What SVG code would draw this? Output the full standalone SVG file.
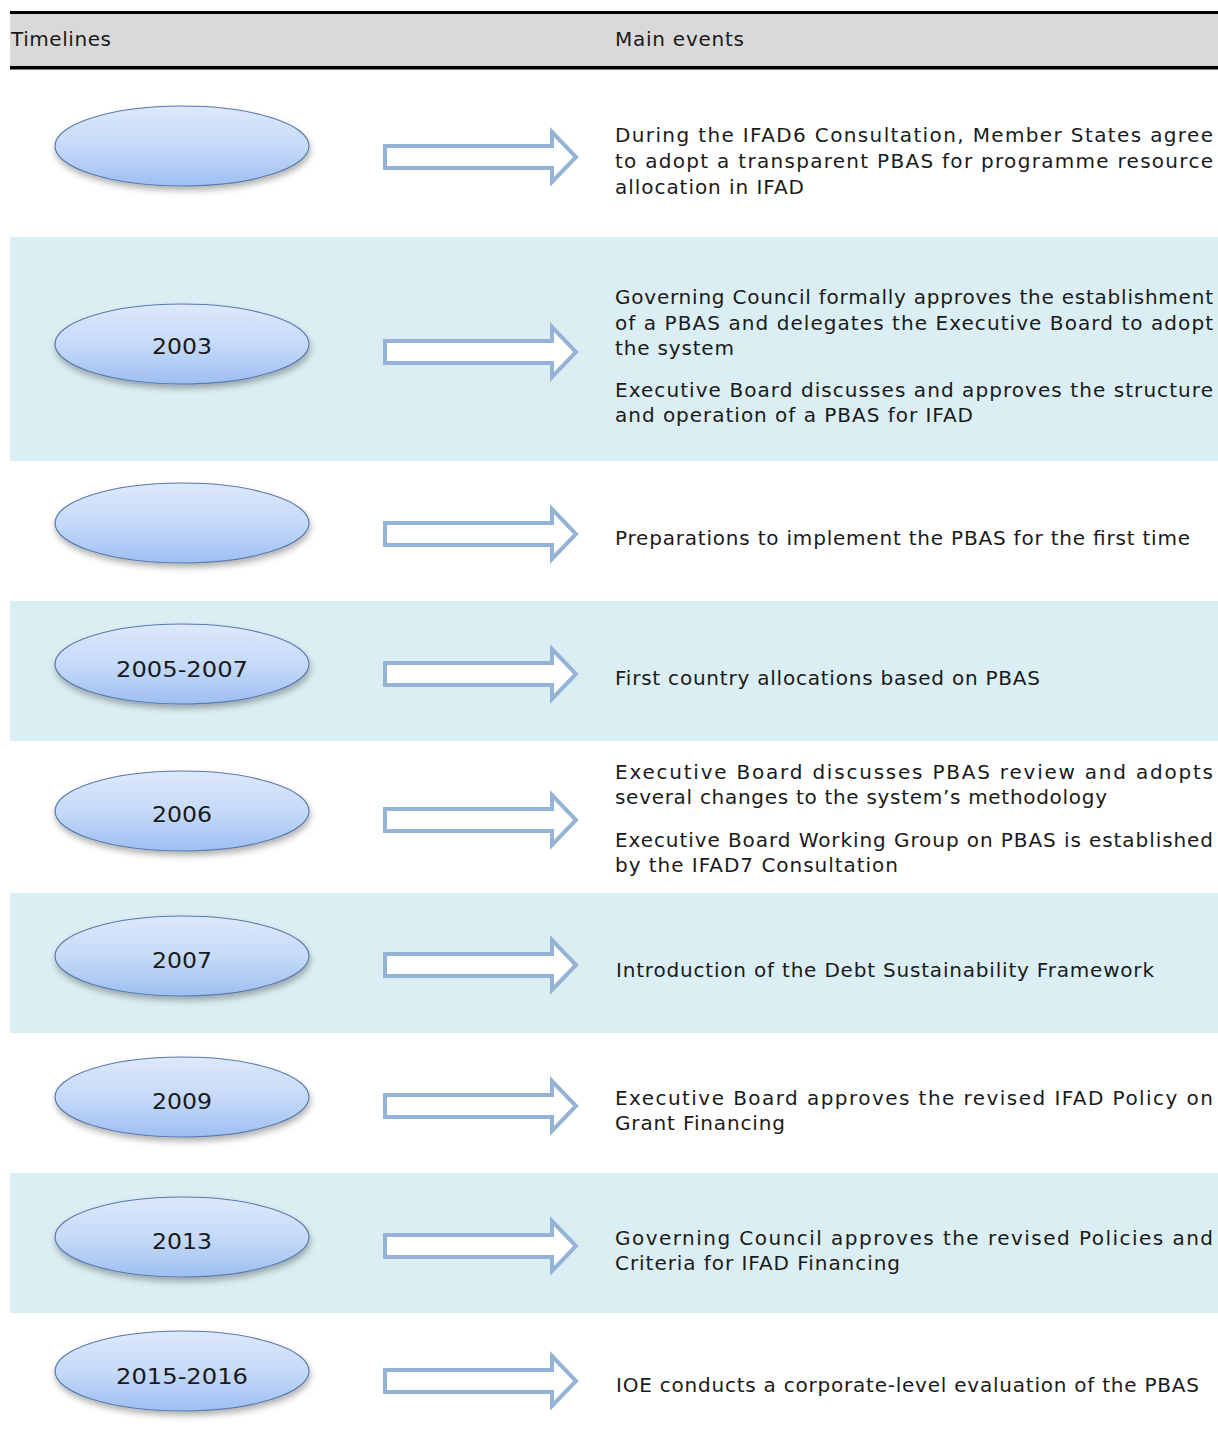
<svg xmlns="http://www.w3.org/2000/svg" width="1218" height="1437" viewBox="0 0 1218 1437">
<defs>
<linearGradient id="eg" x1="0" y1="0" x2="0" y2="1">
<stop offset="0" stop-color="#DDE8FB"/>
<stop offset="0.5" stop-color="#C6DAF8"/>
<stop offset="1" stop-color="#9EBFF2"/>
</linearGradient>
<filter id="sh" x="-20%" y="-30%" width="140%" height="170%">
<feDropShadow dx="1" dy="4" stdDeviation="3" flood-color="#000" flood-opacity="0.3"/>
</filter>
<path id="arr" d="M385,-11 H552 V-25 L576,0 L552,25 V11 H385 Z"/>
</defs>
<style>
.band{fill:#DBEEF3}
.t{font-family:"DejaVu Sans","Verdana",sans-serif;font-size:20px;fill:#1a1a1a}
.y{font-family:"DejaVu Sans","Verdana",sans-serif;font-size:22px;fill:#1a1a1a}
.el{fill:url(#eg);stroke:#5A79AC;stroke-width:1.2;filter:url(#sh)}
.ar{fill:#fff;stroke:#95B3D7;stroke-width:4}
</style>
<rect width="1218" height="1437" fill="#fff"/>
<g id="header">
<rect x="10" y="13" width="1208" height="54" fill="#D9D9D9"/>
<rect x="10" y="11" width="1208" height="3" fill="#000"/>
<rect x="10" y="66" width="1208" height="3.5" fill="#000"/>
<text class="t" x="11" y="46" textLength="100" lengthAdjust="spacing">Timelines</text>
<text class="t" x="615" y="46" textLength="129" lengthAdjust="spacing">Main events</text>
</g>
<g id="bands">
<rect class="band" x="10" y="237" width="1208" height="224"/>
<rect class="band" x="10" y="601" width="1208" height="140"/>
<rect class="band" x="10" y="893" width="1208" height="140"/>
<rect class="band" x="10" y="1173" width="1208" height="140"/>
</g>
<g id="connectors">
<use href="#arr" class="ar" transform="translate(0,157)"/>
<use href="#arr" class="ar" transform="translate(0,352)"/>
<use href="#arr" class="ar" transform="translate(0,534)"/>
<use href="#arr" class="ar" transform="translate(0,674)"/>
<use href="#arr" class="ar" transform="translate(0,820)"/>
<use href="#arr" class="ar" transform="translate(0,965)"/>
<use href="#arr" class="ar" transform="translate(0,1106)"/>
<use href="#arr" class="ar" transform="translate(0,1246)"/>
<use href="#arr" class="ar" transform="translate(0,1381)"/>
</g>
<g id="node-1">
<ellipse class="el" cx="182" cy="146" rx="127" ry="40"/>
</g>
<g id="event-1">
<text class="t" x="615" y="142" textLength="598" lengthAdjust="spacing">During the IFAD6 Consultation, Member States agree</text>
<text class="t" x="615" y="168" textLength="598" lengthAdjust="spacing">to adopt a transparent PBAS for programme resource</text>
<text class="t" x="615" y="194" textLength="189" lengthAdjust="spacing">allocation in IFAD</text>
</g>
<g id="node-2003">
<ellipse class="el" cx="182" cy="344" rx="127" ry="40"/>
<text class="y" x="152" y="354" textLength="60" lengthAdjust="spacingAndGlyphs">2003</text>
</g>
<g id="event-2003">
<text class="t" x="615" y="304" textLength="598" lengthAdjust="spacing">Governing Council formally approves the establishment</text>
<text class="t" x="615" y="330" textLength="598" lengthAdjust="spacing">of a PBAS and delegates the Executive Board to adopt</text>
<text class="t" x="615" y="355" textLength="119" lengthAdjust="spacing">the system</text>
<text class="t" x="615" y="397" textLength="598" lengthAdjust="spacing">Executive Board discusses and approves the structure</text>
<text class="t" x="615" y="422" textLength="358" lengthAdjust="spacing">and operation of a PBAS for IFAD</text>
</g>
<g id="node-3">
<ellipse class="el" cx="182" cy="523" rx="127" ry="40"/>
</g>
<g id="event-3">
<text class="t" x="615" y="545" textLength="575" lengthAdjust="spacing">Preparations to implement the PBAS for the first time</text>
</g>
<g id="node-2005-2007">
<ellipse class="el" cx="182" cy="664" rx="127" ry="40"/>
<text class="y" x="116" y="677" textLength="132" lengthAdjust="spacingAndGlyphs">2005-2007</text>
</g>
<g id="event-2005-2007">
<text class="t" x="615" y="685" textLength="425" lengthAdjust="spacing">First country allocations based on PBAS</text>
</g>
<g id="node-2006">
<ellipse class="el" cx="182" cy="811" rx="127" ry="40"/>
<text class="y" x="152" y="822" textLength="60" lengthAdjust="spacingAndGlyphs">2006</text>
</g>
<g id="event-2006">
<text class="t" x="615" y="779" textLength="598" lengthAdjust="spacing">Executive Board discusses PBAS review and adopts</text>
<text class="t" x="615" y="804" textLength="492" lengthAdjust="spacing">several changes to the system’s methodology</text>
<text class="t" x="615" y="847" textLength="598" lengthAdjust="spacing">Executive Board Working Group on PBAS is established</text>
<text class="t" x="615" y="872" textLength="283" lengthAdjust="spacing">by the IFAD7 Consultation</text>
</g>
<g id="node-2007">
<ellipse class="el" cx="182" cy="956" rx="127" ry="40"/>
<text class="y" x="152" y="968" textLength="60" lengthAdjust="spacingAndGlyphs">2007</text>
</g>
<g id="event-2007">
<text class="t" x="616" y="977" textLength="538" lengthAdjust="spacing">Introduction of the Debt Sustainability Framework</text>
</g>
<g id="node-2009">
<ellipse class="el" cx="182" cy="1097" rx="127" ry="40"/>
<text class="y" x="152" y="1109" textLength="60" lengthAdjust="spacingAndGlyphs">2009</text>
</g>
<g id="event-2009">
<text class="t" x="615" y="1105" textLength="598" lengthAdjust="spacing">Executive Board approves the revised IFAD Policy on</text>
<text class="t" x="615" y="1130" textLength="170" lengthAdjust="spacing">Grant Financing</text>
</g>
<g id="node-2013">
<ellipse class="el" cx="182" cy="1237" rx="127" ry="40"/>
<text class="y" x="152" y="1249" textLength="60" lengthAdjust="spacingAndGlyphs">2013</text>
</g>
<g id="event-2013">
<text class="t" x="615" y="1245" textLength="598" lengthAdjust="spacing">Governing Council approves the revised Policies and</text>
<text class="t" x="615" y="1270" textLength="285" lengthAdjust="spacing">Criteria for IFAD Financing</text>
</g>
<g id="node-2015-2016">
<ellipse class="el" cx="182" cy="1371" rx="127" ry="40"/>
<text class="y" x="116" y="1384" textLength="132" lengthAdjust="spacingAndGlyphs">2015-2016</text>
</g>
<g id="event-2015-2016">
<text class="t" x="616" y="1392" textLength="583" lengthAdjust="spacing">IOE conducts a corporate-level evaluation of the PBAS</text>
</g>
</svg>
